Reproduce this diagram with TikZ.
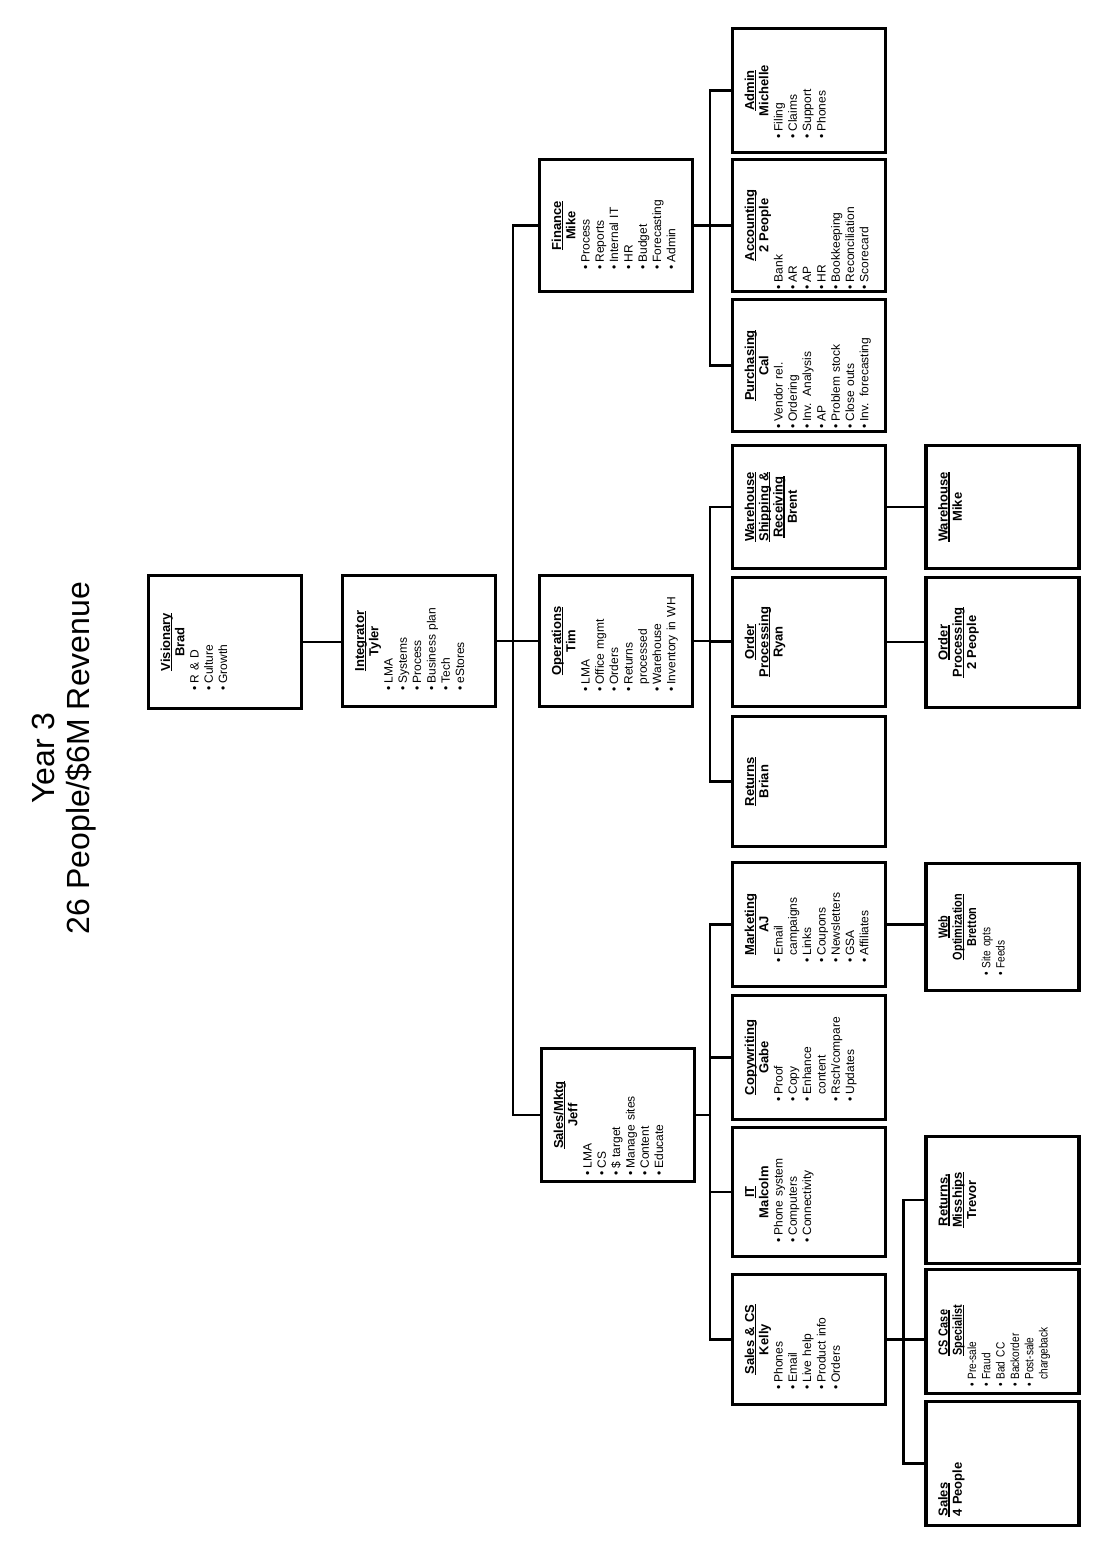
\documentclass[tikz,border=0pt]{standalone}
\usepackage{fontspec}
\setmainfont{Liberation Sans}
\newfontfamily\narrowf[FakeStretch=0.84]{Liberation Sans}
\usetikzlibrary{calc}
\newcommand\hul[1]{\leavevmode\setbox0=\hbox{#1}\rlap{\rule[-2pt]{\wd0}{1.2pt}}\box0}
\newcommand\hd[1]{\textbf{\hul{#1}}}
\newcommand\bl[1]{\makebox[7pt][l]{\textbullet}#1}
\newcommand\cn[1]{\hspace*{7pt}#1}
\newcommand\blist[2]{\makebox[\linewidth][l]{\hspace*{#1pt}\fontsize{12}{14.3}\selectfont\begin{tabular}[t]{@{}l@{}}#2\end{tabular}}}
\newcommand\lft[2]{\makebox[\linewidth][l]{\hspace*{#1pt}#2}}
\tikzset{
  org/.style={draw, line width=3.4pt, rotate=90, inner sep=0pt, text width=#1,
    align=center, text height=21.5pt, text depth=131.5pt,
    font=\fontsize{13}{14.3}\selectfont},
  conn/.style={line width=2.4pt},
  ttl/.style={rotate=90, align=center, font=\fontsize{32}{35}\selectfont}
}
\begin{document}
\begin{tikzpicture}[x=1pt,y=-1pt]
\useasboundingbox (0,0) rectangle (1107,1548);
\node[ttl] (title) at (64,758) {Year 3\\26 People/\$6M Revenue};
% level 0/1
\node[org=133pt] (vis) at (225,642) {\hd{Visionary}\\\textbf{Brad}\\\blist{18}{\bl{R \& D}\\\bl{Culture}\\\bl{Growth}}};
\node[org=131pt] (int) at (419,641) {\hd{Integrator}\\\textbf{Tyler}\\\blist{16}{\bl{LMA}\\\bl{Systems}\\\bl{Process}\\\bl{Business plan}\\\bl{Tech}\\\bl{eStores}}};
\node[org=132pt] (fin) at (616,225.5) {\hd{Finance}\\\textbf{Mike}\\\blist{22}{\bl{Process}\\\bl{Reports}\\\bl{Internal IT}\\\bl{HR}\\\bl{Budget}\\\bl{Forecasting}\\\bl{Admin}}};
\node[org=131pt] (ops) at (616,641) {\hd{Operations}\\\textbf{Tim}\\\blist{15}{\bl{LMA}\\\bl{Office mgmt}\\\bl{Orders}\\\bl{Returns}\\\cn{processed}\\\bl{Warehouse}\\\bl{Inventory in WH}}};
\node[org=133pt] (sal) at (618,1115) {\hd{Sales/Mktg}\\\textbf{Jeff}\\\blist{6}{\bl{LMA}\\\bl{CS}\\\bl{\$ target}\\\bl{Manage sites}\\\bl{Content}\\\bl{Educate}}};
% finance children
\node[org=124pt] (adm) at (809,90.5) {\hd{Admin}\\\textbf{Michelle}\\\blist{14}{\bl{Filing}\\\bl{Claims}\\\bl{Support}\\\bl{Phones}}};
\node[org=132pt] (acc) at (809,225.5) {\hd{Accounting}\\\textbf{2 People}\\\blist{2.5}{\bl{Bank}\\\bl{AR}\\\bl{AP}\\\bl{HR}\\\bl{Bookkeeping}\\\bl{Reconciliation}\\\bl{Scorecard}}};
\node[org=132pt] (pur) at (809,365.5) {\hd{Purchasing}\\\textbf{Cal}\\\blist{3}{\bl{Vendor rel.}\\\bl{Ordering}\\\bl{Inv. Analysis}\\\bl{AP}\\\bl{Problem stock}\\\bl{Close outs}\\\bl{Inv. forecasting}}};
% operations children
\node[org=123pt] (wsr) at (809,507) {\hd{Warehouse}\\\hd{Shipping \&}\\\hd{Receiving}\\\textbf{Brent}};
\node[org=129pt] (ryan) at (809,642) {\hd{Order}\\\hd{Processing}\\\textbf{Ryan}};
\node[org=130pt] (brian) at (809,781.5) {\hd{Returns}\\\textbf{Brian}};
% sales children
\node[org=124pt] (aj) at (809,924.5) {\hd{Marketing}\\\textbf{AJ}\\\blist{24}{\bl{Email}\\\cn{campaigns}\\\bl{Links}\\\bl{Coupons}\\\bl{Newsletters}\\\bl{GSA}\\\bl{Affiliates}}};
\node[org=124pt] (gabe) at (809,1057.5) {\hd{Copywriting}\\\textbf{Gabe}\\\blist{18}{\bl{Proof}\\\bl{Copy}\\\bl{Enhance}\\\cn{content}\\\bl{Rsch/compare}\\\bl{Updates}}};
\node[org=129pt] (it) at (809,1192) {\hd{IT}\\\textbf{Malcolm}\\\blist{14}{\bl{Phone system}\\\bl{Computers}\\\bl{Connectivity}}};
\node[org=130pt] (kelly) at (809,1339.5) {\hd{Sales \& CS}\\\textbf{Kelly}\\\blist{15}{\bl{Phones}\\\bl{Email}\\\bl{Live help}\\\bl{Product info}\\\bl{Orders}}};
% level 3
\node[org=123pt] (whm) at (1002.5,507) {\hd{Warehouse}\\\textbf{Mike}};
\node[org=130pt] (op2) at (1002.5,642.5) {\hd{Order}\\\hd{Processing}\\\textbf{2 People}};
\node[org=127pt, font=\narrowf\fontsize{13}{14.3}\selectfont] (web) at (1002.5,927) {\hd{Web}\\\hd{Optimization}\\\textbf{Bretton}\\\blist{15}{\bl{Site opts}\\\bl{Feeds}}};
\node[org=127pt] (ret) at (1002.5,1200) {\hd{Returns,}\\\hd{Misships}\\\textbf{Trevor}};
\node[org=124pt, font=\narrowf\fontsize{13}{14.3}\selectfont] (cs) at (1002.5,1331.5) {\lft{38}{\hd{CS Case}}\\\lft{38}{\hd{Specialist}}\\\blist{7}{\bl{Pre-sale}\\\bl{Fraud}\\\bl{Bad CC}\\\bl{Backorder}\\\bl{Post-sale}\\\cn{chargeback}}};
\node[org=124pt] (s4) at (1002.5,1463.5) {\lft{9}{\hd{Sales}}\\\lft{9}{\textbf{4 People}}};
% connectors
\draw[conn] (vis.south) -- (vis.south -| int.north);
\draw[conn] (int.south) -- (int.south -| ops.north);
\draw[conn] (fin.north) -- ++(-25,0) coordinate (trunk) |- (sal.north);
% finance
\draw[conn] (fin.south) -- (fin.south -| acc.north);
\draw[conn] (adm.north) -- ++(-21,0) coordinate (fbus) |- (pur.north);
\draw[conn] (acc.north) -- (acc.north -| fbus);
% operations
\draw[conn] (ops.south) -- (ops.south -| ryan.north);
\draw[conn] (wsr.north) -- ++(-21,0) coordinate (obus) |- (brian.north);
\draw[conn] (ryan.north) -- (ryan.north -| obus);
\draw[conn] (wsr.south) -- (wsr.south -| whm.north);
\draw[conn] (ryan.south) -- (ryan.south -| op2.north);
% sales
\draw[conn] (aj.north) -- ++(-21,0) coordinate (sbus) |- (kelly.north);
\draw[conn] (gabe.north) -- (gabe.north -| sbus);
\draw[conn] (it.north) -- (it.north -| sbus);
\draw[conn] (sal.south) -- (sal.south -| sbus);
\draw[conn] (aj.south) -- (aj.south -| web.north);
\draw[conn] (kelly.south) -- (kelly.south -| cs.north);
\draw[conn] (ret.north) -- ++(-21,0) coordinate (kbus) |- (s4.north);
\end{tikzpicture}
\end{document}
